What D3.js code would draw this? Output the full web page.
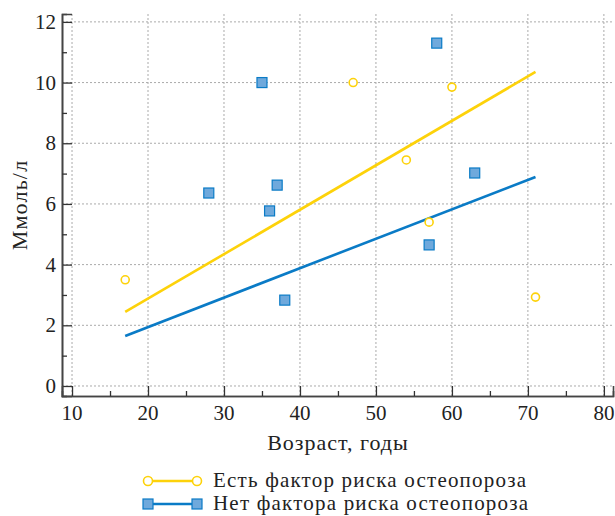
<!DOCTYPE html>
<html>
<head>
<meta charset="utf-8">
<script src="https://cdn.jsdelivr.net/npm/d3@7"></script>
<style>
  body { margin: 0; background: #fff; }
  svg { font-family: "Liberation Serif", "DejaVu Serif", serif; }
</style>
</head>
<body>
<svg id="chart"></svg>
<script>
const width = 615;
const height = 516;

// data
const riskAge = [17, 47, 54, 57, 60, 71];
const riskVal = [3.5, 10, 7.45, 5.4, 9.85, 2.93];
const noRiskAge = [28, 35, 36, 37, 38, 57, 58, 63];
const noRiskVal = [6.36, 10, 5.77, 6.62, 2.83, 4.65, 11.3, 7.02];
const riskFit = [[17, 2.44], [71, 10.35]];
const noRiskFit = [[17, 1.65], [71, 6.89]];
const xTicks = [10, 20, 30, 40, 50, 60, 70, 80];
const yTicks = [0, 2, 4, 6, 8, 10, 12];
const legendLabels = ["Есть фактор риска остеопороза", "Нет фактора риска остеопороза"];

const yellow = "#fdd20a";
const blue = "#0a7bc6";
const squareFill = "#6fa9dc";

const svg = d3.select("#chart").attr("width", width).attr("height", height);

const xScale = d3.scaleLinear().domain([8.68, 81.2]).range([62, 613]);
const yScale = d3.scaleLinear().domain([-0.33, 12.26]).range([396, 14]);

// grid
svg.append("g").selectAll("line")
    .data(xTicks)
    .enter().append("line")
    .attr("x1", d => xScale(d)).attr("x2", d => xScale(d))
    .attr("y1", yScale(12.26)).attr("y2", yScale(-0.33))
    .style("stroke", "#aaa").style("stroke-dasharray", "2,2").style("stroke-width", 1);
svg.append("g").selectAll("line")
    .data(yTicks)
    .enter().append("line")
    .attr("x1", xScale(8.68)).attr("x2", xScale(81.2))
    .attr("y1", d => yScale(d)).attr("y2", d => yScale(d))
    .style("stroke", "#aaa").style("stroke-dasharray", "2,2").style("stroke-width", 1);

// axes, ticks pointing inward
const xAxis = d3.axisTop(xScale).tickValues(xTicks).tickSize(10).tickFormat("");
const xMinor = d3.axisTop(xScale).tickValues(xTicks.slice(0, -1).map(d => d + 5)).tickSize(5).tickFormat("");
const yAxis = d3.axisRight(yScale).tickValues(yTicks).tickSize(10).tickFormat("");
const yMinor = d3.axisRight(yScale).tickValues(yTicks.slice(0, -1).map(d => d + 1)).tickSize(5).tickFormat("");

[[xAxis, `translate(0, 396)`], [xMinor, `translate(0, 396)`],
 [yAxis, `translate(62, 0)`], [yMinor, `translate(62, 0)`]].forEach(([ax, tr]) => {
    const g = svg.append("g").attr("transform", tr).call(ax);
    g.select(".domain").style("stroke", "#444").style("stroke-width", 1.6);
    g.selectAll(".tick line").style("stroke", "#333").style("stroke-width", 1.3);
});

// tick labels
svg.append("g").selectAll("text")
    .data(xTicks)
    .enter().append("text")
    .attr("x", d => xScale(d)).attr("y", 420)
    .attr("text-anchor", "middle")
    .style("font-size", "21px").style("fill", "#222")
    .text(d => d);
svg.append("g").selectAll("text")
    .data(yTicks)
    .enter().append("text")
    .attr("x", 56).attr("y", d => yScale(d) + 7)
    .attr("text-anchor", "end")
    .style("font-size", "21px").style("fill", "#222")
    .text(d => d);

// axis titles
svg.append("text")
    .attr("x", 338).attr("y", 450)
    .attr("text-anchor", "middle")
    .style("font-size", "22px").style("letter-spacing", "1px").style("fill", "#222")
    .text("Возраст, годы");
svg.append("text")
    .attr("transform", "translate(27, 205) rotate(-90)")
    .attr("text-anchor", "middle")
    .style("font-size", "22px").style("letter-spacing", "1.2px").style("fill", "#222")
    .text("Ммоль/л");

// regression lines
const line = d3.line().x(d => xScale(d[0])).y(d => yScale(d[1]));
svg.append("path").datum(riskFit).attr("d", line)
    .style("fill", "none").style("stroke", yellow).style("stroke-width", 2.6);
svg.append("path").datum(noRiskFit).attr("d", line)
    .style("fill", "none").style("stroke", blue).style("stroke-width", 2.6);

// points
svg.append("g").selectAll("circle")
    .data(riskAge)
    .enter().append("circle")
    .attr("cx", d => xScale(d))
    .attr("cy", (d, i) => yScale(riskVal[i]))
    .attr("r", 4)
    .style("fill", "#fff").style("stroke", yellow).style("stroke-width", 1.6);
svg.append("g").selectAll("rect")
    .data(noRiskAge)
    .enter().append("rect")
    .attr("x", d => xScale(d) - 5)
    .attr("y", (d, i) => yScale(noRiskVal[i]) - 5)
    .attr("width", 10).attr("height", 10)
    .style("fill", squareFill).style("stroke", blue).style("stroke-width", 1.2);

// legend
const lg = svg.append("g");
legendLabels.forEach((label, i) => {
    const y = 481 + i * 23;
    const c = i === 0 ? yellow : blue;
    lg.append("line").attr("x1", 148).attr("x2", 197).attr("y1", y).attr("y2", y)
        .style("stroke", c).style("stroke-width", 2.6);
    [148, 197].forEach(x => {
        if (i === 0) {
            lg.append("circle").attr("cx", x).attr("cy", y).attr("r", 4.5)
                .style("fill", "#fff").style("stroke", yellow).style("stroke-width", 1.6);
        } else {
            lg.append("rect").attr("x", x - 5).attr("y", y - 5).attr("width", 10).attr("height", 10)
                .style("fill", squareFill).style("stroke", blue).style("stroke-width", 1.2);
        }
    });
    lg.append("text").attr("x", 213).attr("y", y + 6)
        .style("font-size", "21px").style("letter-spacing", "1.2px").style("fill", "#222")
        .text(label);
});
</script>
</body>
</html>
